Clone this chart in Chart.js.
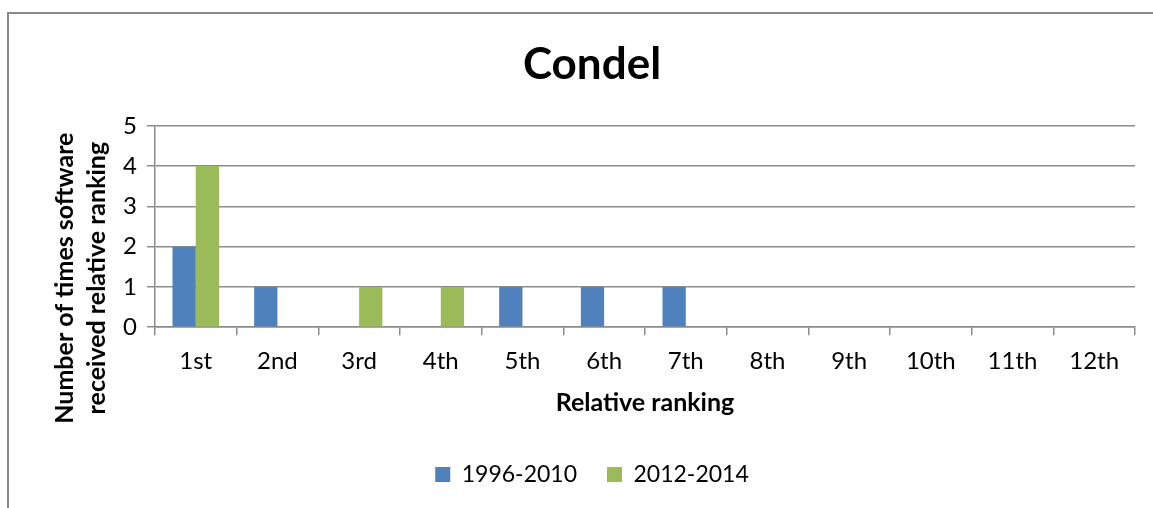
<!DOCTYPE html>
<html>
<head>
<meta charset="utf-8">
<script src="https://cdn.jsdelivr.net/npm/chart.js@4"></script>
<style>
  html, body { margin: 0; padding: 0; background: #fff; overflow: hidden; }
  #wrap { position: relative; width: 1153px; height: 508px; }
  #frame { position: absolute; left: 7px; top: 12px; width: 1200px; height: 600px; border: 2px solid #8a8a8a; box-sizing: border-box; }
  #c { position: absolute; left: 0; top: 0; }
</style>
</head>
<body>
<div id="wrap">
  <div id="frame"></div>
  <canvas id="c" width="1153" height="508"></canvas>
</div>
<script>
const rankings = ['1st', '2nd', '3rd', '4th', '5th', '6th', '7th', '8th', '9th', '10th', '11th', '12th'];
const period1 = [2, 1, 0, 0, 1, 1, 1, 0, 0, 0, 0, 0];
const period2 = [4, 0, 1, 1, 0, 0, 0, 0, 0, 0, 0, 0];
const seriesNames = ['1996-2010', '2012-2014'];
const yTicks = [0, 1, 2, 3, 4, 5];

const fontFamily = 'Lato, "Open Sans", sans-serif';
const gridColor = '#8c8c8c';
// trailing blanks push the rotated y title down, like the original
const pad = '\u00a0'.repeat(17);

new Chart('c', {
  type: 'bar',
  data: {
    labels: rankings,
    datasets: [
      { label: seriesNames[0], data: period1, backgroundColor: '#4f81bd' },
      { label: seriesNames[1], data: period2, backgroundColor: '#9bbb59' }
    ]
  },
  options: {
    responsive: false,
    animation: false,
    datasets: { bar: { categoryPercentage: 0.57, barPercentage: 1 } },
    layout: { padding: { left: 49, right: 18, top: 38, bottom: 12 } },
    plugins: {
      title: {
        display: true,
        text: 'Condel',
        color: '#000',
        font: { family: fontFamily, size: 44, weight: 'bold' },
        padding: { top: 0, bottom: 35 }
      },
      legend: {
        position: 'bottom',
        labels: {
          color: '#000',
          font: { family: fontFamily, size: 23 },
          boxWidth: 15,
          boxHeight: 15,
          padding: 30
        }
      },
      tooltip: { enabled: false }
    },
    scales: {
      x: {
        grid: { drawOnChartArea: false, drawTicks: true, tickLength: 8, color: gridColor, lineWidth: 1.5 },
        border: { color: gridColor, width: 1.5 },
        ticks: { color: '#000', font: { family: fontFamily, size: 24 }, padding: 12 },
        title: {
          display: true,
          text: 'Relative ranking',
          color: '#000',
          font: { family: fontFamily, size: 25, weight: 'bold' },
          padding: { top: 0, bottom: 15 }
        }
      },
      y: {
        min: 0,
        max: 5,
        afterBuildTicks: axis => { axis.ticks = yTicks.map(v => ({ value: v })); },
        grid: { color: gridColor, lineWidth: 1.5, tickLength: 8 },
        border: { color: gridColor, width: 1.5 },
        ticks: { color: '#000', font: { family: fontFamily, size: 24 }, padding: 10 },
        title: {
          display: true,
          text: ['Number of times software' + pad, 'received relative ranking' + pad],
          color: '#000',
          font: { family: fontFamily, size: 25, weight: 'bold', lineHeight: 1.28 },
          padding: { top: 0, bottom: 0 }
        }
      }
    }
  }
});
</script>
</body>
</html>
